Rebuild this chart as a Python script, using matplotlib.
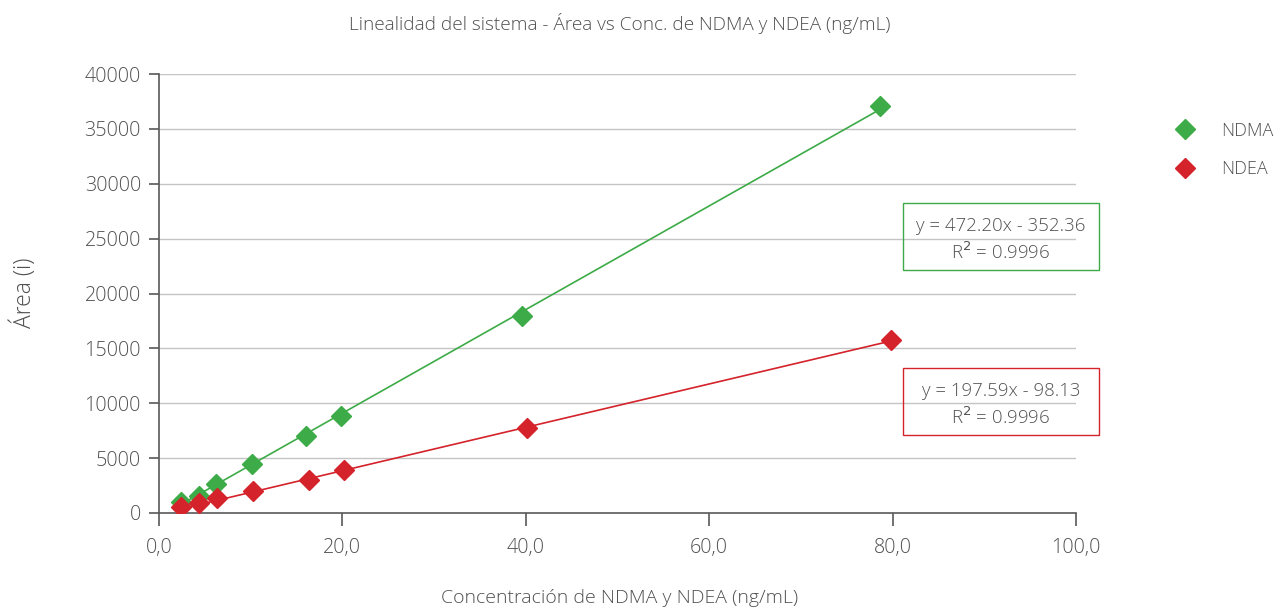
"""
Linealidad del sistema: area vs concentracion de NDMA y NDEA.
Saves: out.png
"""

import matplotlib
matplotlib.use("Agg")
import matplotlib.pyplot as plt
import numpy as np
from matplotlib.patches import Rectangle
from matplotlib.lines import Line2D

plt.rcParams["font.family"] = ["Open Sans", "DejaVu Sans"]
plt.rcParams["font.weight"] = 300

# ---------------------------------------------------------------------------
# Data
# ---------------------------------------------------------------------------
ndma_conc = [2.4, 4.4, 6.2, 10.1, 16.0, 19.8, 39.6, 78.6]
ndma_area = [1000, 1550, 2640, 4460, 7020, 8840, 17950, 37080]
ndea_conc = [2.4, 4.4, 6.3, 10.2, 16.4, 20.2, 40.1, 79.8]
ndea_area = [550, 910, 1370, 2000, 3000, 3920, 7750, 15760]

ndma_fit = (472.20, -352.36, 0.9996)
ndea_fit = (197.59, -98.13, 0.9996)

x_ticks = [0, 20, 40, 60, 80, 100]
y_ticks = [0, 5000, 10000, 15000, 20000, 25000, 30000, 35000, 40000]

GREEN = "#3dab47"
RED = "#d4232b"
TXT = "#505050"


def main():
    fig = plt.figure(figsize=(12.86, 6.10), dpi=100)
    ax = fig.add_axes([159 / 1286, 1 - 513 / 610, 917 / 1286, 439 / 610])

    for ax_y in y_ticks[1:]:
        ax.axhline(ax_y, color="#c4c4c4", lw=1.0, zorder=1)

    series = [
        (ndma_conc, ndma_area, ndma_fit, GREEN, "NDMA"),
        (ndea_conc, ndea_area, ndea_fit, RED, "NDEA"),
    ]
    for xs, ys, (m, b, _), col, name in series:
        xl = np.array([min(xs), max(xs)])
        ax.plot(xl, m * xl + b, color=col, lw=1.2, zorder=2)
        ax.plot(xs, ys, ls="none", marker="D", ms=10, color=col,
                mec=col, zorder=3, label=name)

    ax.set_xlim(0, 100)
    ax.set_ylim(0, 40000)
    ax.set_xticks(x_ticks)
    ax.set_xticklabels([f"{v:.1f}".replace(".", ",") for v in x_ticks])
    ax.set_yticks(y_ticks)
    ax.set_yticklabels([str(v) for v in y_ticks])
    for s in ("top", "right"):
        ax.spines[s].set_visible(False)
    for s in ("left", "bottom"):
        ax.spines[s].set_color("#595959")
        ax.spines[s].set_linewidth(1.2)
    ax.tick_params(axis="x", direction="out", length=9, width=1.2,
                   color="#595959", labelsize=14.2, labelcolor=TXT, pad=9)
    ax.tick_params(axis="y", direction="out", length=7, width=1.2,
                   color="#595959", labelsize=14.2, labelcolor=TXT, pad=6)

    fig.text(620 / 1286, 1 - 24 / 610, "Linealidad del sistema - Área vs Conc. de NDMA y NDEA (ng/mL)",
             ha="center", va="center", fontsize=13.7, color=TXT)
    fig.text(620 / 1286, 1 - 598 / 610, "Concentración de NDMA y NDEA (ng/mL)",
             ha="center", va="center", fontsize=14, color=TXT)
    fig.text(24 / 1286, 1 - 293 / 610, "Área (i)", rotation=90,
             ha="center", va="center", fontsize=16.5, color=TXT)

    # Trend-line equation boxes
    for (m, b, r2), col, top in [(ndma_fit, GREEN, 203), (ndea_fit, RED, 368)]:
        x0, w, h = 903 / 1286, 196 / 1286, 67 / 610
        y0 = 1 - (top + 67) / 610
        fig.add_artist(Rectangle((x0, y0), w, h, transform=fig.transFigure,
                                 fill=False, edgecolor=col, lw=1.0))
        sign = "-" if b < 0 else "+"
        fig.text(x0 + w / 2, y0 + h * 0.66, f"y = {m:.2f}x {sign} {abs(b):.2f}",
                 ha="center", va="center", fontsize=13.4, color=TXT)
        fig.text(x0 + w / 2, y0 + h * 0.27, f"R$^2$ = {r2:.4f}",
                 ha="center", va="center", fontsize=13.4, color=TXT)

    handles = [Line2D([], [], ls="none", marker="D", ms=10, color=GREEN),
               Line2D([], [], ls="none", marker="D", ms=10, color=RED)]
    fig.legend(handles, ["NDMA", "NDEA"], loc="center left",
               bbox_to_anchor=(1151 / 1286, 1 - 150 / 610), frameon=False,
               fontsize=13, labelcolor=TXT, handletextpad=1.0,
               labelspacing=1.15)

    fig.savefig("out.png", dpi=100)


if __name__ == "__main__":
    main()
